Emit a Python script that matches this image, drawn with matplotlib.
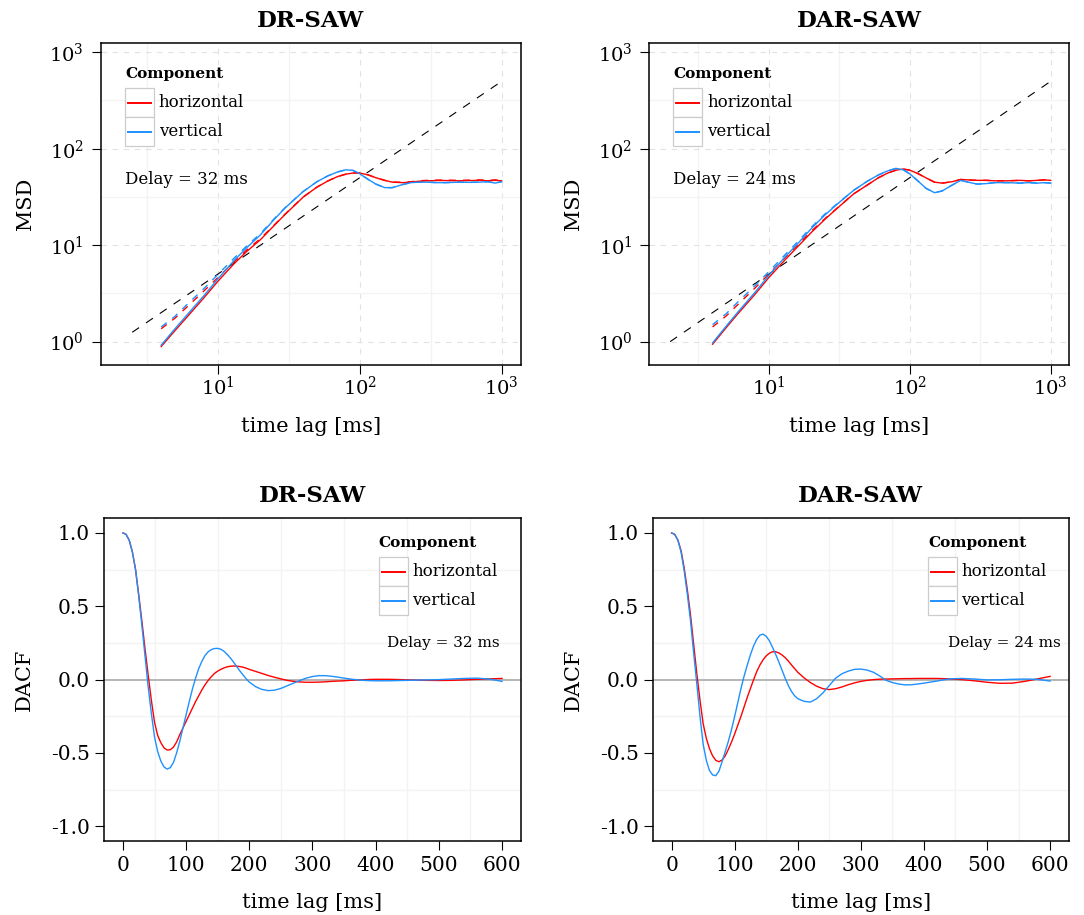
"""MSD and DACF of the SAW walkers, horizontal vs vertical component"""
import matplotlib
matplotlib.use('Agg')
import matplotlib.pyplot as plt
from matplotlib.patches import Rectangle
from matplotlib.lines import Line2D
from matplotlib.ticker import LogFormatterMathtext, NullFormatter

plt.rcParams['font.family'] = 'DejaVu Serif'
plt.rcParams['mathtext.fontset'] = 'dejavuserif'
plt.rcParams['lines.scale_dashes'] = False

RED = '#FF0000'
BLUE = '#1E90FF'

# ---- MSD (ms lag vs. mean squared displacement) ----
msd_lag = [4, 5, 6, 8, 10, 13, 16, 20, 25, 30, 40, 50, 60, 70, 80, 90, 100,
           115, 130, 150, 170, 200, 230, 260, 300, 350, 400, 500, 600, 700,
           800, 900, 1000]

dr_msd_h = [0.89, 1.30, 1.76, 2.85, 4.2, 6.4, 8.6, 11.4, 16.0, 21.0, 31.5, 40,
            46.5, 51.5, 54.5, 56, 56, 53.5, 50, 47, 45, 44.5, 45, 46, 46.5,
            46.8, 46.8, 46.5, 46.8, 47, 46.5, 47, 46.5]
dr_msd_v = [0.92, 1.36, 1.85, 3.0, 4.45, 6.9, 9.4, 12.8, 18.5, 24.5, 36, 45.5,
            52.5, 57.5, 60.5, 59.5, 55, 48, 43, 39.5, 39.5, 42.5, 44.5, 45, 45,
            44.5, 44.5, 45, 44.8, 45, 45.5, 44, 45.5]
dr_msd_h_raw = [1.36, 1.75, 2.25, 3.35, 4.6, 6.7, 8.9, 11.7, 16.2, 21.2, 31.6,
                40, 46.5, 51.5, 54.5, 56, 56, 53.5, 50, 47, 45.2, 44.8, 45.5,
                46.5, 47, 47.3, 47.3, 47, 47.3, 47.5, 47, 47.5, 47]
dr_msd_v_raw = [1.42, 1.83, 2.38, 3.55, 4.95, 7.3, 9.8, 13.2, 18.8, 24.7, 36,
                45.5, 52.5, 57.5, 60.5, 59.5, 55, 48, 43, 39.5, 39.5, 42.5,
                44.5, 45, 45, 44.5, 44.5, 45, 44.8, 45, 45.5, 44, 45.5]

dar_msd_h = [0.94, 1.40, 1.92, 3.1, 4.6, 7.0, 9.6, 13.5, 18.5, 23.5, 34, 42,
             50, 56, 60, 61.5, 60, 55, 50, 45, 44, 45.5, 48, 47.5, 47, 47,
             46.5, 46.5, 47, 46.5, 47, 47.5, 47]
dar_msd_v = [0.97, 1.45, 2.0, 3.25, 4.85, 7.5, 10.3, 14.8, 20.5, 26, 37, 46,
             53.5, 59, 62.5, 60.5, 55, 46, 39, 35, 36.5, 42, 47, 45, 43, 43.5,
             44.5, 44.5, 44, 44.5, 44, 44.5, 44]
dar_msd_h_raw = [1.42, 1.85, 2.4, 3.6, 5.0, 7.4, 10.0, 13.9, 18.8, 23.7, 34,
                 42, 50, 56, 60, 61.5, 60, 55, 50, 45, 44, 45.5, 48, 47.5, 47,
                 47, 46.5, 46.5, 47, 46.5, 47, 47.5, 47]
dar_msd_v_raw = [1.50, 1.95, 2.55, 3.8, 5.3, 7.9, 10.8, 15.3, 21, 26.3, 37, 46,
                 53.5, 59, 62.5, 60.5, 55, 46, 39, 35, 36.5, 42, 47, 45, 43,
                 43.5, 44.5, 44.5, 44, 44.5, 44, 44.5, 44]

# diffusive guide line
dr_ref_lag, dr_ref_msd = [2.5, 1000], [1.25, 500]
dar_ref_lag, dar_ref_msd = [2.0, 1000], [1.0, 500]

# ---- DACF ----
dacf_lag = (list(range(0, 201, 5)) + list(range(210, 401, 10))
            + list(range(420, 601, 20)))

dr_dacf_h = [
    1.0, 0.99, 0.95, 0.87, 0.75, 0.58, 0.40, 0.21, 0.03, -0.14, -0.29,
    -0.38, -0.43, -0.465, -0.48, -0.478, -0.46, -0.425, -0.375, -0.33,
    -0.285, -0.24, -0.195, -0.15, -0.11, -0.07, -0.035, -0.005, 0.02, 0.042,
    0.058, 0.07, 0.08, 0.087, 0.091, 0.093, 0.092, 0.089, 0.085, 0.078, 0.07,
    0.056, 0.042, 0.028, 0.016, 0.005, -0.005, -0.012, -0.016, -0.018, -0.018,
    -0.017, -0.015, -0.012, -0.01, -0.008, -0.005, -0.003, -0.001, 0.001,
    0.002,
    0.002, 0.0, -0.003, -0.005, -0.006, -0.005, -0.002, 0.002, 0.005, 0.008]
dr_dacf_v = [
    1.0, 0.99, 0.95, 0.87, 0.75, 0.57, 0.37, 0.16, -0.05, -0.23, -0.39,
    -0.49, -0.555, -0.595, -0.61, -0.60, -0.565, -0.50, -0.42, -0.33, -0.24,
    -0.15, -0.065, 0.01, 0.075, 0.125, 0.165, 0.19, 0.205, 0.212, 0.213,
    0.207, 0.193, 0.172, 0.148, 0.12, 0.09, 0.06, 0.032, 0.006, -0.017,
    -0.048, -0.067, -0.075, -0.072, -0.06, -0.042, -0.024, -0.006, 0.01,
    0.021, 0.027, 0.027, 0.023, 0.017, 0.01, 0.004, -0.001, -0.005, -0.007,
    -0.008,
    -0.008, -0.006, -0.004, -0.002, 0.0, 0.004, 0.008, 0.01, 0.004, -0.012]

dar_dacf_h = [
    1.0, 0.99, 0.95, 0.88, 0.76, 0.61, 0.44, 0.24, 0.04, -0.14, -0.30,
    -0.40, -0.47, -0.52, -0.55, -0.56, -0.548, -0.52, -0.475, -0.425, -0.37,
    -0.31, -0.25, -0.185, -0.12, -0.06, 0.0, 0.055, 0.10, 0.135, 0.162,
    0.18, 0.19, 0.19, 0.182, 0.168, 0.15, 0.127, 0.10, 0.075, 0.05,
    0.012, -0.02, -0.045, -0.062, -0.068, -0.062, -0.05, -0.035, -0.022,
    -0.012, -0.005, 0.0, 0.003, 0.004, 0.005, 0.006, 0.007, 0.007, 0.008,
    0.008,
    0.008, 0.005, 0.0, -0.008, -0.018, -0.025, -0.024, -0.012, 0.005, 0.022]
dar_dacf_v = [
    1.0, 0.99, 0.95, 0.87, 0.74, 0.58, 0.40, 0.18, -0.03, -0.25, -0.44,
    -0.55, -0.62, -0.65, -0.655, -0.625, -0.56, -0.49, -0.42, -0.34, -0.25,
    -0.155, -0.06, 0.025, 0.10, 0.17, 0.23, 0.275, 0.303, 0.31, 0.295,
    0.265, 0.22, 0.172, 0.12, 0.065, 0.01, -0.04, -0.08, -0.11, -0.13,
    -0.148, -0.153, -0.13, -0.09, -0.04, 0.01, 0.04, 0.058, 0.07, 0.072,
    0.065, 0.05, 0.025, -0.005, -0.02, -0.03, -0.036, -0.035, -0.03, -0.024,
    -0.01, 0.005, 0.008, 0.004, -0.002, -0.001, 0.002, 0.004, 0.002, -0.01]


def _frame(ax, xpad, ypad, size):
    for sp in ax.spines.values():
        sp.set_linewidth(1.1)
        sp.set_color('black')
    ax.tick_params(which='major', direction='out', length=6.5, width=0.8,
                   labelsize=size, color='black')
    ax.tick_params(axis='x', which='major', pad=xpad)
    ax.tick_params(axis='y', which='major', pad=ypad)
    ax.tick_params(which='minor', length=0)
    ax.set_axisbelow(True)


def _legend(ax, x, y_top, kw, kh):
    """ggplot-like legend: bold title, boxed keys, labels"""
    ax.text(x, y_top + 0.043, 'Component', transform=ax.transAxes,
            fontsize=11, fontweight='bold', ha='left', va='center')
    for i, (lab, col) in enumerate([('horizontal', RED), ('vertical', BLUE)]):
        y0 = y_top - (i + 1) * kh
        ax.add_patch(Rectangle((x, y0), kw, kh, transform=ax.transAxes,
                               facecolor='white', edgecolor='#CCCCCC', lw=0.9,
                               zorder=5))
        ax.add_line(Line2D([x + 0.1 * kw, x + 0.9 * kw], [y0 + kh / 2] * 2,
                           transform=ax.transAxes, color=col, lw=1.4, zorder=6))
        ax.text(x + kw + 0.011, y0 + kh / 2, lab, transform=ax.transAxes,
                fontsize=12, ha='left', va='center', zorder=6)


def _labels(ax, title, ylab, xlab_y, ylab_x):
    ax.annotate(title, xy=(0.5, 1), xycoords='axes fraction',
                xytext=(0, 16), textcoords='offset points', ha='center',
                va='center', fontsize=16.5, fontweight='bold')
    ax.set_xlabel('time lag [ms]', fontsize=15)
    ax.set_ylabel(ylab, fontsize=15)
    ax.xaxis.set_label_coords(0.5, xlab_y)
    ax.xaxis.label.set_va('center')
    ax.yaxis.set_label_coords(ylab_x, 0.5)
    ax.yaxis.label.set_va('center')


def plot_msd(ax, title, delay, h, v, h_raw, v_raw, ref_lag, ref_msd, xlim):
    ax.set_xscale('log')
    ax.set_yscale('log')
    ax.plot(ref_lag, ref_msd, color='black', lw=0.8, ls=(0, (6, 6)), zorder=2)
    ax.plot(msd_lag, h_raw, color=RED, lw=1.0, ls=(0, (5, 5)), zorder=3)
    ax.plot(msd_lag, v_raw, color=BLUE, lw=1.0, ls=(0, (5, 5)), zorder=3)
    ax.plot(msd_lag, h, color=RED, lw=1.0, zorder=4)
    ax.plot(msd_lag, v, color=BLUE, lw=1.0, zorder=4)

    ax.set_xlim(*xlim)
    ax.set_ylim(10 ** -0.245, 10 ** 3.096)
    ax.set_xticks([10, 100, 1000])
    ax.set_yticks([1, 10, 100, 1000])
    ax.set_xticks([10 ** 0.5, 10 ** 1.5, 10 ** 2.5], minor=True)
    ax.set_yticks([10 ** 0.5, 10 ** 1.5, 10 ** 2.5], minor=True)
    for axis in (ax.xaxis, ax.yaxis):
        axis.set_major_formatter(LogFormatterMathtext())
        axis.set_minor_formatter(NullFormatter())
    ax.grid(which='major', color='#E2E2E2', lw=0.8, ls=(0, (4, 4)))
    ax.grid(which='minor', color='#F3F3F3', lw=0.9)
    _frame(ax, 1.0, 5.5, 14)

    _legend(ax, 0.058, 0.860, 0.069, 0.09)
    ax.text(0.058, 0.575, 'Delay = %d ms' % delay, transform=ax.transAxes,
            fontsize=12, ha='left', va='center')
    _labels(ax, title, 'MSD', -0.19, -0.18)


def plot_dacf(ax, title, delay, h, v, legend_x, delay_x):
    ax.axhline(0, color='#B0B0B0', lw=1.3, zorder=2)
    ax.plot(dacf_lag, h, color=RED, lw=1.0, zorder=3)
    ax.plot(dacf_lag, v, color=BLUE, lw=1.0, zorder=3)

    ax.set_xlim(-30, 630)
    ax.set_ylim(-1.1, 1.1)
    ax.set_xticks(range(0, 601, 100))
    ax.set_yticks([-1.0, -0.5, 0.0, 0.5, 1.0])
    ax.set_yticklabels(['-1.0', '-0.5', '0.0', '0.5', '1.0'])
    ax.set_xticks(range(50, 600, 100), minor=True)
    ax.set_yticks([-0.75, -0.25, 0.25, 0.75], minor=True)
    ax.grid(which='minor', color='#F3F3F3', lw=1.0)
    _frame(ax, 4.0, 3.5, 14.5)

    _legend(ax, legend_x, 0.880, 0.069, 0.09)
    ax.text(delay_x, 0.614, 'Delay = %d ms' % delay, transform=ax.transAxes,
            fontsize=11, ha='right', va='center')
    _labels(ax, title, 'DACF', -0.19, -0.19)


fig = plt.figure(figsize=(10.84, 9.15), dpi=100)
ax_tl = fig.add_axes([0.0929, 0.6008, 0.3877, 0.3522])
ax_tr = fig.add_axes([0.5987, 0.6008, 0.3875, 0.3522])
ax_bl = fig.add_axes([0.0959, 0.0809, 0.3847, 0.3527])
ax_br = fig.add_axes([0.6021, 0.0809, 0.3841, 0.3527])

plot_msd(ax_tl, 'DR-SAW', 32, dr_msd_h, dr_msd_v, dr_msd_h_raw, dr_msd_v_raw,
         dr_ref_lag, dr_ref_msd, (10 ** 0.176, 10 ** 3.136))
plot_msd(ax_tr, 'DAR-SAW', 24, dar_msd_h, dar_msd_v, dar_msd_h_raw,
         dar_msd_v_raw, dar_ref_lag, dar_ref_msd, (10 ** 0.151, 10 ** 3.13))
plot_dacf(ax_bl, 'DR-SAW', 32, dr_dacf_h, dr_dacf_v, 0.659, 0.950)
plot_dacf(ax_br, 'DAR-SAW', 24, dar_dacf_h, dar_dacf_v, 0.661, 0.980)

fig.savefig('out.png', dpi=100)
plt.close(fig)
